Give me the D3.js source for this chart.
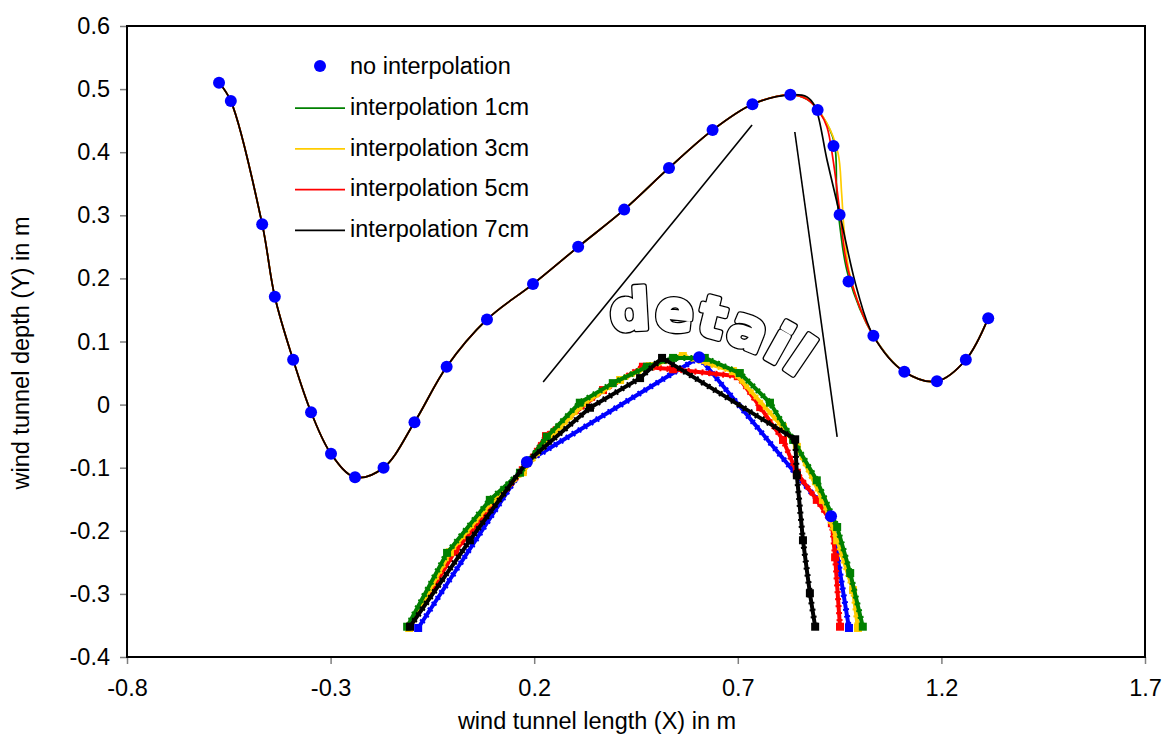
<!DOCTYPE html>
<html>
<head>
<meta charset="utf-8">
<script src="https://cdn.jsdelivr.net/npm/d3@7"></script>
<style>
  html, body { margin: 0; padding: 0; background: #fff; }
  svg { display: block; }
  text { font-family: "Liberation Sans", Arial, sans-serif; }
</style>
</head>
<body>
<svg id="chart" width="1172" height="734"></svg>
<script>
// Measured wind tunnel floor profile (no interpolation), metres
const profileX = [-0.574, -0.545, -0.468, -0.437, -0.392, -0.348, -0.299, -0.240, -0.170, -0.094,
                  -0.015, 0.084, 0.197, 0.308, 0.421, 0.531, 0.638, 0.736, 0.829, 0.896,
                  0.935, 0.950, 0.972, 1.033, 1.109, 1.189, 1.260, 1.315];
const profileY = [0.510, 0.481, 0.286, 0.171, 0.071, -0.012, -0.078, -0.115, -0.100, -0.028,
                  0.060, 0.135, 0.191, 0.250, 0.309, 0.375, 0.435, 0.476, 0.491, 0.467,
                  0.410, 0.301, 0.195, 0.109, 0.052, 0.037, 0.071, 0.137];

// Interpolated profiles agree with the measurement except behind the crest,
// so each one stores only its own points between the crest and the trough run-out.
const peak1cmX = [0.872, 0.909, 0.937, 0.943, 0.951, 0.971];
const peak1cmY = [0.483, 0.456, 0.415, 0.335, 0.281, 0.205];
const peak3cmX = [0.872, 0.917, 0.946, 0.955, 0.961, 0.976];
const peak3cmY = [0.484, 0.448, 0.399, 0.335, 0.277, 0.204];
const peak5cmX = [0.870, 0.902, 0.919, 0.934, 0.951, 0.971];
const peak5cmY = [0.484, 0.462, 0.440, 0.388, 0.304, 0.213];
const peak7cmX = [0.870, 0.890, 0.919, 0.951, 0.993];
const peak7cmY = [0.4875, 0.472, 0.388, 0.300, 0.182];

// Magnified crest ("detail"), drawn in the same axes
const detailNoneX = [-0.085, 0.182, 0.605, 0.929, 0.973];
const detailNoneY = [-0.354, -0.091, 0.075, -0.177, -0.354];
const detail1cmX = [-0.112, -0.014, 0.091, 0.165, 0.231, 0.312, 0.393, 0.477, 0.541, 0.619,
                    0.705, 0.779, 0.836, 0.894, 0.944, 0.976, 1.007];
const detail1cmY = [-0.352, -0.235, -0.151, -0.108, -0.051, 0.003, 0.034, 0.060, 0.074, 0.074,
                    0.050, 0.003, -0.056, -0.120, -0.194, -0.267, -0.352];
const detail3cmX = [-0.107, -0.007, 0.099, 0.172, 0.241, 0.325, 0.411, 0.484, 0.565, 0.688,
                    0.811, 0.845, 0.909, 0.944, 0.983, 0.995];
const detail3cmY = [-0.354, -0.234, -0.151, -0.107, -0.051, 0.003, 0.039, 0.061, 0.077, 0.053,
                    -0.036, -0.067, -0.151, -0.215, -0.294, -0.354];
const detail5cmX = [-0.105, 0.006, 0.172, 0.229, 0.369, 0.467, 0.541, 0.700, 0.755, 0.811,
                    0.845, 0.894, 0.931, 0.939, 0.951];
const detail5cmY = [-0.352, -0.232, -0.104, -0.050, 0.023, 0.060, 0.056, 0.045, -0.004, -0.056,
                    -0.108, -0.151, -0.188, -0.242, -0.352];
const detail7cmX = [-0.105, 0.042, 0.182, 0.337, 0.460, 0.514, 0.841, 0.845, 0.860, 0.877, 0.890];
const detail7cmY = [-0.352, -0.215, -0.091, -0.005, 0.042, 0.074, -0.055, -0.112, -0.215, -0.299, -0.352];

// Pointer lines from the crest to the magnified view
const pointerX = [[0.222, 0.735], [0.840, 0.944]];
const pointerY = [[0.036, 0.443], [0.432, -0.051]];

const seriesNames = ["no interpolation", "interpolation 1cm", "interpolation 3cm",
                     "interpolation 5cm", "interpolation 7cm"];
const seriesColors = ["#0000ff", "#008000", "#ffcc00", "#ff0000", "#000000"];

const xTicks = [-0.8, -0.3, 0.2, 0.7, 1.2, 1.7];
const xTickLabels = ["-0.8", "-0.3", "0.2", "0.7", "1.2", "1.7"];
const yTicks = [-0.4, -0.3, -0.2, -0.1, 0, 0.1, 0.2, 0.3, 0.4, 0.5, 0.6];
const yTickLabels = ["-0.4", "-0.3", "-0.2", "-0.1", "0", "0.1", "0.2", "0.3", "0.4", "0.5", "0.6"];

const xTitle = "wind tunnel length (X) in m";
const yTitle = "wind tunnel depth (Y) in m";
const detailLabel = "detail";

// ---- layout ----
const plot = { left: 127, right: 1145, top: 26, bottom: 657 };
const fontSize = "23.5px";
const svg = d3.select("#chart");

const x = d3.scaleLinear().domain([-0.8, 1.7]).range([plot.left, plot.right]);
const y = d3.scaleLinear().domain([-0.4, 0.6]).range([plot.bottom, plot.top]);

const zip = (xs, ys) => xs.map((v, i) => [v, ys[i]]);
const smooth = d3.line().x(d => x(d[0])).y(d => y(d[1])).curve(d3.curveCatmullRom.alpha(0.5));
const straight = d3.line().x(d => x(d[0])).y(d => y(d[1]));

// axes
const yAxis = d3.axisLeft(y).tickValues(yTicks).tickFormat((d, i) => yTickLabels[i]).tickSize(7).tickPadding(10);
const xAxis = d3.axisBottom(x).tickValues(xTicks).tickFormat((d, i) => xTickLabels[i]).tickSize(7).tickPadding(15);

const gy = svg.append("g").attr("transform", `translate(${plot.left},0)`).call(yAxis);
const gx = svg.append("g").attr("transform", `translate(0,${plot.bottom})`).call(xAxis);
[gx, gy].forEach(g => {
  g.select(".domain").remove();
  g.selectAll(".tick line").attr("stroke", "#7f7f7f").attr("stroke-width", 1.5);
  g.selectAll(".tick text").attr("fill", "#000").style("font-size", fontSize)
    .style("font-family", "'Liberation Sans', Arial, sans-serif");
});

// plot frame
svg.append("rect")
  .attr("x", plot.left).attr("y", plot.top)
  .attr("width", plot.right - plot.left).attr("height", plot.bottom - plot.top)
  .attr("fill", "none").attr("stroke", "#000").attr("stroke-width", 2);

// axis titles
svg.append("text").attr("x", 597).attr("y", 729)
  .attr("text-anchor", "middle").style("font-size", fontSize).text(xTitle);
svg.append("text").attr("transform", `translate(29,353) rotate(-90)`)
  .attr("text-anchor", "middle").style("font-size", fontSize).text(yTitle);

// pointer lines
pointerX.forEach((px, i) => {
  svg.append("path").attr("d", straight(zip(px, pointerY[i])))
    .attr("stroke", "#000").attr("stroke-width", 1.6).attr("fill", "none");
});

// magnified crest: thick lines with dense square markers
const detailSeries = [
  { xs: detailNoneX, ys: detailNoneY, c: seriesColors[0] },
  { xs: detail5cmX, ys: detail5cmY, c: seriesColors[3] },
  { xs: detail3cmX, ys: detail3cmY, c: seriesColors[2] },
  { xs: detail1cmX, ys: detail1cmY, c: seriesColors[1] },
  { xs: detail7cmX, ys: detail7cmY, c: seriesColors[4] }
];
const gDetail = svg.append("g");
detailSeries.forEach(s => {
  const d = straight(zip(s.xs, s.ys));
  gDetail.append("path").attr("d", d).attr("fill", "none")
    .attr("stroke", s.c).attr("stroke-width", 4).attr("stroke-linejoin", "round");
  gDetail.append("path").attr("d", d).attr("fill", "none")
    .attr("stroke", s.c).attr("stroke-width", 6).attr("stroke-dasharray", "2 5");
  gDetail.selectAll(null).data(zip(s.xs, s.ys)).enter().append("rect")
    .attr("x", d => x(d[0]) - 4).attr("y", d => y(d[1]) - 4)
    .attr("width", 8).attr("height", 8).attr("fill", s.c);
});
// the measured crest points are marked with dots in the magnified view as well
gDetail.selectAll(null).data(zip(detailNoneX, detailNoneY).slice(1, 4)).enter().append("circle")
  .attr("cx", d => x(d[0])).attr("cy", d => y(d[1])).attr("r", 6).attr("fill", seriesColors[0]);

// "detail" label set on an arc: a wide black stroke underneath, then a white
// fill with a narrower white stroke, which leaves a heavy outlined lettering
const arcC = { cx: 647, cy: 584, r: 255 };
const arcPath = d3.path();
arcPath.arc(arcC.cx, arcC.cy, arcC.r, (-90 - 9) * Math.PI / 180, (-90 + 60) * Math.PI / 180);
svg.append("defs").append("path").attr("id", "detailArc").attr("d", arcPath.toString());
[{ stroke: "#000", w: 6 }, { stroke: "#fff", w: 3.4 }].forEach(layer => {
  svg.append("text")
    .style("font-family", "'DejaVu Sans', sans-serif").style("font-weight", "bold")
    .style("font-size", "56px").style("letter-spacing", "3px")
    .attr("fill", "#fff").attr("stroke", layer.stroke).attr("stroke-width", layer.w)
    .attr("stroke-linejoin", "round")
    .append("textPath").attr("href", "#detailArc").attr("startOffset", 4).text(detailLabel);
});

// interpolated profiles
const headX = profileX.slice(0, 19), headY = profileY.slice(0, 19);
const tailX = profileX.slice(23), tailY = profileY.slice(23);
const peaks = [
  [peak1cmX, peak1cmY], [peak3cmX, peak3cmY], [peak5cmX, peak5cmY], [peak7cmX, peak7cmY]
];
peaks.forEach((p, i) => {
  const pts = zip(headX.concat(p[0], tailX), headY.concat(p[1], tailY));
  svg.append("path").attr("d", smooth(pts)).attr("fill", "none")
    .attr("stroke", seriesColors[i + 1]).attr("stroke-width", 1.7);
});

// measured points
svg.append("g").selectAll("circle").data(zip(profileX, profileY)).enter().append("circle")
  .attr("cx", d => x(d[0])).attr("cy", d => y(d[1])).attr("r", 6).attr("fill", seriesColors[0]);

// legend
const legend = svg.append("g").attr("transform", "translate(295,66)");
seriesNames.forEach((name, i) => {
  const row = legend.append("g").attr("transform", `translate(0,${i * 40.7})`);
  if (i === 0) {
    row.append("circle").attr("cx", 25).attr("cy", 0).attr("r", 6).attr("fill", seriesColors[0]);
  } else {
    row.append("line").attr("x1", 0).attr("x2", 50).attr("y1", 1.5).attr("y2", 1.5)
      .attr("stroke", seriesColors[i]).attr("stroke-width", 1.7);
  }
  row.append("text").attr("x", 55).attr("y", 0).attr("dy", "0.35em")
    .style("font-size", fontSize).text(name);
});
</script>
</body>
</html>
